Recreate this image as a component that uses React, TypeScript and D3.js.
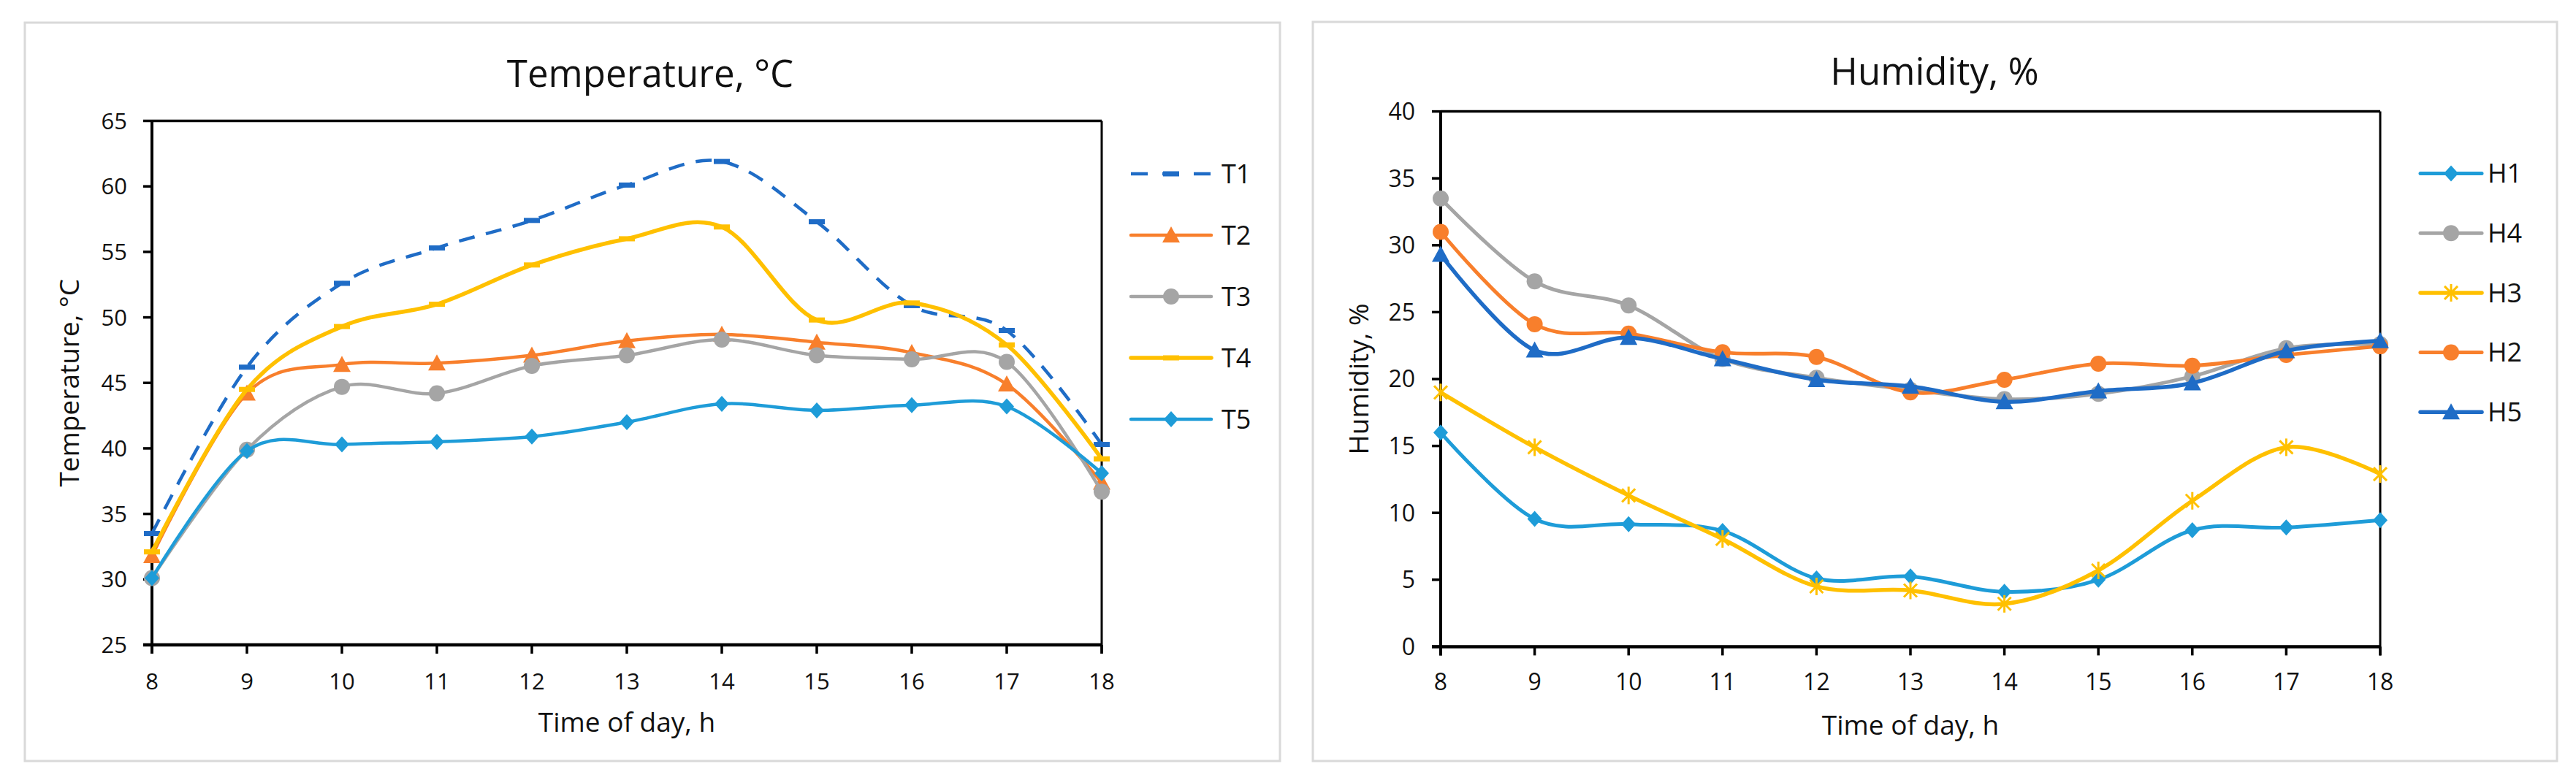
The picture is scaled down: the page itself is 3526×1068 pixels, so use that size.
import React from "react";
import * as d3 from "d3";

// ---------- data ----------
const hours = [8, 9, 10, 11, 12, 13, 14, 15, 16, 17, 18];
const tempTicks = [25, 30, 35, 40, 45, 50, 55, 60, 65];
const humTicks = [0, 5, 10, 15, 20, 25, 30, 35, 40];

const T1 = [33.5, 46.2, 52.6, 55.3, 57.4, 60.1, 61.9, 57.3, 50.9, 49.0, 40.3];
const T2 = [31.8, 44.2, 46.4, 46.5, 47.1, 48.2, 48.7, 48.1, 47.3, 44.9, 37.4];
const T3 = [30.1, 39.9, 44.7, 44.2, 46.3, 47.1, 48.3, 47.1, 46.8, 46.6, 36.7];
const T4 = [32.1, 44.5, 49.3, 51.0, 54.0, 56.0, 56.9, 49.8, 51.1, 47.9, 39.2];
const T5 = [30.1, 39.8, 40.3, 40.5, 40.9, 42.0, 43.4, 42.9, 43.3, 43.2, 38.1];

const H1 = [16.0, 9.55, 9.15, 8.65, 5.1, 5.25, 4.1, 5.0, 8.7, 8.9, 9.45];
const H4 = [33.5, 27.3, 25.5, 21.5, 20.1, 19.2, 18.5, 18.9, 20.2, 22.3, 22.6];
const H3 = [19.0, 14.9, 11.3, 8.05, 4.5, 4.2, 3.2, 5.7, 10.9, 14.9, 12.9];
const H2 = [31.0, 24.1, 23.4, 22.0, 21.65, 19.0, 19.95, 21.15, 21.0, 21.8, 22.45];
const H5 = [29.3, 22.15, 23.1, 21.5, 19.95, 19.45, 18.3, 19.1, 19.7, 22.1, 22.85];

// ---------- styling ----------
const FONT = "'Open Sans', 'Noto Sans', sans-serif";
const BLUE_D = "#1F6CC6";
const ORANGE = "#F87F2C";
const GRAY = "#A5A5A5";
const YELLOW = "#FFC000";
const BLUE_L = "#1E9CD8";

type MarkerType = "dash" | "triangle" | "circle" | "diamond" | "star";
interface Series {
  name: string;
  values: number[];
  color: string;
  marker: MarkerType;
  dashed?: boolean;
  width: number;
}

const tempSeries: Series[] = [
  { name: "T1", values: T1, color: BLUE_D, marker: "dash", dashed: true, width: 4.5 },
  { name: "T2", values: T2, color: ORANGE, marker: "triangle", width: 4.5 },
  { name: "T3", values: T3, color: GRAY, marker: "circle", width: 4.5 },
  { name: "T4", values: T4, color: YELLOW, marker: "dash", width: 5.5 },
  { name: "T5", values: T5, color: BLUE_L, marker: "diamond", width: 4.5 },
];

const humSeries: Series[] = [
  { name: "H1", values: H1, color: BLUE_L, marker: "diamond", width: 5 },
  { name: "H4", values: H4, color: GRAY, marker: "circle", width: 5 },
  { name: "H3", values: H3, color: YELLOW, marker: "star", width: 5.5 },
  { name: "H2", values: H2, color: ORANGE, marker: "circle", width: 5 },
  { name: "H5", values: H5, color: BLUE_D, marker: "triangle", width: 5.5 },
];

function Marker({ type, x, y, color }: { type: MarkerType; x: number; y: number; color: string }) {
  switch (type) {
    case "circle":
      return <circle cx={x} cy={y} r={11} fill={color} />;
    case "triangle":
      return (
        <path
          d={`M${x},${y - 12} L${x + 12},${y + 10} L${x - 12},${y + 10} Z`}
          fill={color}
        />
      );
    case "diamond":
      return (
        <path
          d={`M${x},${y - 11} L${x + 10},${y} L${x},${y + 11} L${x - 10},${y} Z`}
          fill={color}
        />
      );
    case "star":
      return (
        <g stroke={color} strokeWidth={3} strokeLinecap="butt">
          <line x1={x - 9} y1={y - 9} x2={x + 9} y2={y + 9} />
          <line x1={x - 9} y1={y + 9} x2={x + 9} y2={y - 9} />
          <line x1={x} y1={y - 12} x2={x} y2={y + 12} />
        </g>
      );
    case "dash":
    default:
      return <rect x={x - 11} y={y - 3.5} width={22} height={7} fill={color} />;
  }
}

interface PanelCfg {
  title: string;
  yTitle: string;
  series: Series[];
  yTicks: number[];
  frame: [number, number, number, number];
  left: number;
  right: number;
  top: number;
  bottom: number;
  titleX: number;
  titleY: number;
  yTitleX: number;
  yLabelX: number;
  xLabelY: number;
  xTitleY: number;
  tickFont: number;
  legendX1: number;
  legendX2: number;
  legendTextX: number;
  legendY0: number;
  legendStep: number;
}

function Panel({ cfg }: { cfg: PanelCfg }) {
  const x = d3.scaleLinear().domain([8, 18]).range([cfg.left, cfg.right]);
  const y = d3
    .scaleLinear()
    .domain([cfg.yTicks[0], cfg.yTicks[cfg.yTicks.length - 1]])
    .range([cfg.bottom, cfg.top]);
  const line = d3
    .line<number>()
    .x((_, i) => x(hours[i]))
    .y((d) => y(d))
    .curve(d3.curveCatmullRom.alpha(0));
  const [fx, fy, fw, fh] = cfg.frame;
  const midX = (cfg.left + cfg.right) / 2;
  const midY = (cfg.top + cfg.bottom) / 2;
  const tick = 12;
  return (
    <g fontFamily={FONT} fill="#111">
      <rect x={fx} y={fy} width={fw} height={fh} fill="#fff" stroke="#d9d9d9" strokeWidth={3} />
      <text x={cfg.titleX} y={cfg.titleY} fontSize={51} textAnchor="middle">
        {cfg.title}
      </text>
      {/* frame of plot */}
      <line x1={cfg.left} x2={cfg.right} y1={cfg.top} y2={cfg.top} stroke="#000" strokeWidth={3.5} />
      <line x1={cfg.right} x2={cfg.right} y1={cfg.top} y2={cfg.bottom + tick} stroke="#000" strokeWidth={3} />
      <line x1={cfg.left} x2={cfg.left} y1={cfg.top} y2={cfg.bottom + tick} stroke="#000" strokeWidth={4} />
      <line x1={cfg.left - tick} x2={cfg.right} y1={cfg.bottom} y2={cfg.bottom} stroke="#000" strokeWidth={4.5} />
      {cfg.yTicks.map((t) => (
        <g key={"y" + t}>
          <line x1={cfg.left - tick} x2={cfg.left} y1={y(t)} y2={y(t)} stroke="#000" strokeWidth={3.5} />
          <text
            x={cfg.yLabelX}
            y={y(t) + cfg.tickFont * 0.357}
            fontSize={cfg.tickFont}
            textAnchor="end"
          >
            {t}
          </text>
        </g>
      ))}
      {hours.map((h) => (
        <g key={"x" + h}>
          <line x1={x(h)} x2={x(h)} y1={cfg.bottom} y2={cfg.bottom + tick} stroke="#000" strokeWidth={3.5} />
          <text x={x(h)} y={cfg.xLabelY} fontSize={cfg.tickFont} textAnchor="middle">
            {h}
          </text>
        </g>
      ))}
      <text x={midX} y={cfg.xTitleY} fontSize={37} textAnchor="middle">
        Time of day, h
      </text>
      <text
        transform={`translate(${cfg.yTitleX},${midY}) rotate(-90)`}
        fontSize={37}
        textAnchor="middle"
      >
        {cfg.yTitle}
      </text>
      {/* series */}
      {cfg.series.map((s) => (
        <g key={s.name}>
          <path
            d={line(s.values) || ""}
            fill="none"
            stroke={s.color}
            strokeWidth={s.width}
            strokeDasharray={s.dashed ? "22 16" : undefined}
            strokeLinejoin="round"
            strokeLinecap={s.dashed ? "butt" : "round"}
          />
          {s.values.map((v, i) => (
            <Marker key={i} type={s.marker} x={x(hours[i])} y={y(v)} color={s.color} />
          ))}
        </g>
      ))}
      {/* legend */}
      {cfg.series.map((s, i) => {
        const ly = cfg.legendY0 + i * cfg.legendStep;
        const cx = (cfg.legendX1 + cfg.legendX2) / 2;
        return (
          <g key={"lg" + s.name}>
            <line
              x1={cfg.legendX1}
              x2={cfg.legendX2}
              y1={ly}
              y2={ly}
              stroke={s.color}
              strokeWidth={s.width}
              strokeDasharray={s.dashed ? "23 20" : undefined}
              strokeLinecap={s.dashed ? "butt" : "round"}
            />
            <Marker type={s.marker} x={cx} y={ly} color={s.color} />
            <text x={cfg.legendTextX} y={ly + 36 * 0.357} fontSize={36}>
              {s.name}
            </text>
          </g>
        );
      })}
    </g>
  );
}

const tempCfg: PanelCfg = {
  title: "Temperature, \u00B0C",
  yTitle: "Temperature, \u00B0C",
  series: tempSeries,
  yTicks: tempTicks,
  frame: [34, 31, 1718, 1011],
  left: 208,
  right: 1508,
  top: 165.5,
  bottom: 883,
  titleX: 890,
  titleY: 119,
  yTitleX: 108,
  yLabelX: 174,
  xLabelY: 944,
  xTitleY: 1002,
  tickFont: 31,
  legendX1: 1548,
  legendX2: 1658,
  legendTextX: 1672,
  legendY0: 238,
  legendStep: 84,
};

const humCfg: PanelCfg = {
  title: "Humidity, %",
  yTitle: "Humidity, %",
  series: humSeries,
  yTicks: humTicks,
  frame: [1797, 30, 1703, 1012],
  left: 1972,
  right: 3258,
  top: 152.6,
  bottom: 885.4,
  titleX: 2648,
  titleY: 116,
  yTitleX: 1873,
  yLabelX: 1937,
  xLabelY: 945,
  xTitleY: 1006,
  tickFont: 32,
  legendX1: 3313,
  legendX2: 3397,
  legendTextX: 3405,
  legendY0: 237.5,
  legendStep: 81.7,
};

export default function App() {
  return (
    <div style={{ position: "absolute", left: 0, top: 0, background: "#fff" }}>
      <svg width={3526} height={1068} viewBox="0 0 3526 1068" style={{ display: "block" }}>
        <rect x={0} y={0} width={3526} height={1068} fill="#fff" />
        <Panel cfg={tempCfg} />
        <Panel cfg={humCfg} />
      </svg>
    </div>
  );
}
